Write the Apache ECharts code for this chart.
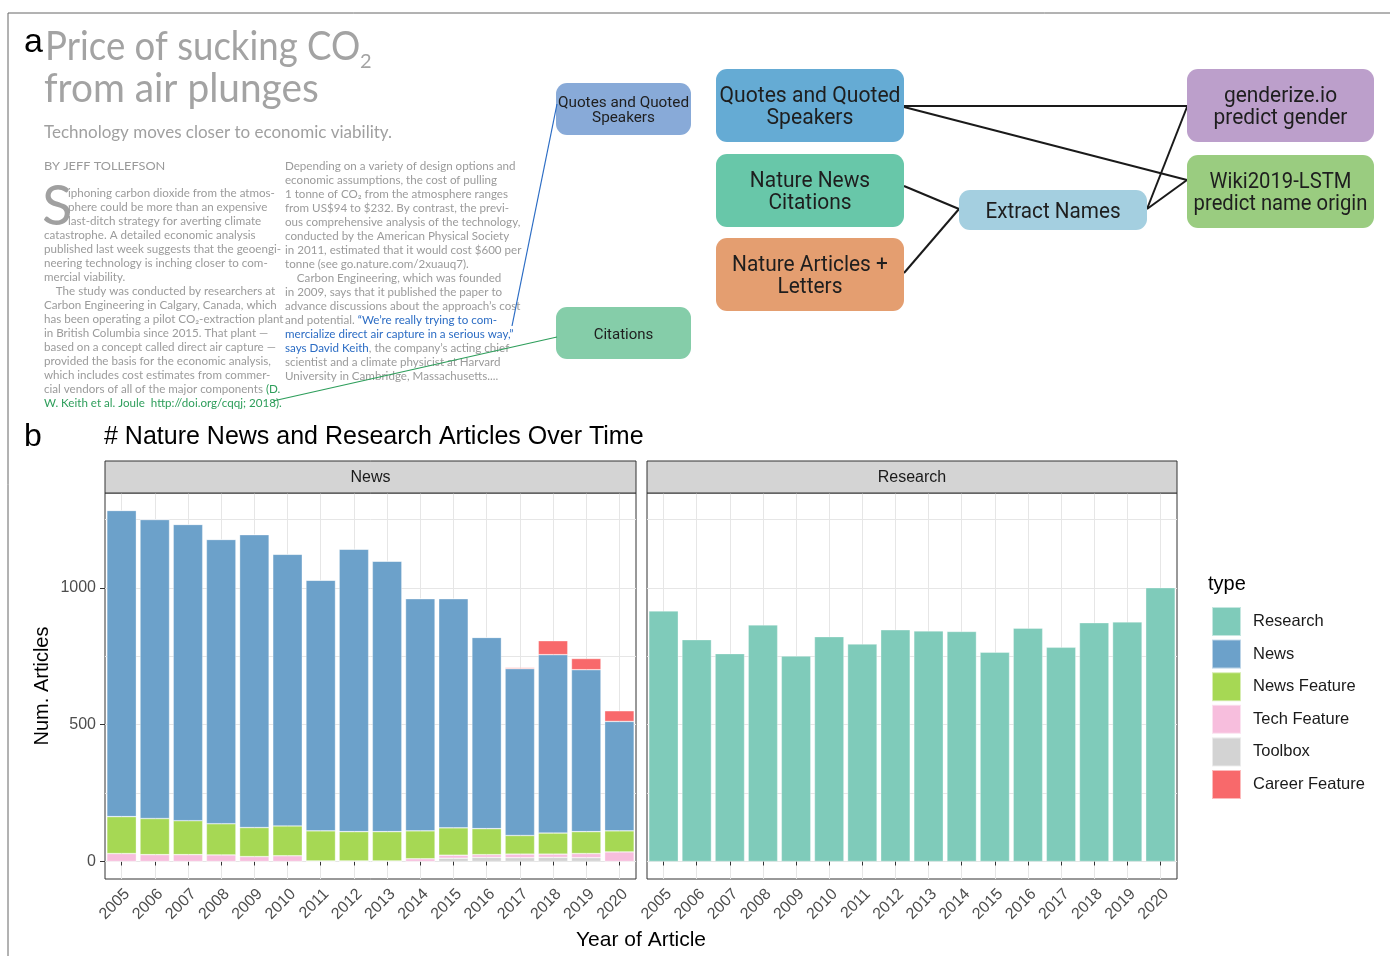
<!DOCTYPE html>
<html>
<head>
<meta charset="utf-8">
<title>Nature News and Research Articles Over Time</title>
<script src="https://cdn.jsdelivr.net/npm/echarts@6/dist/echarts.min.js"></script>
<style>
  html, body { margin: 0; padding: 0; background: #fff; }
  #main { width: 1390px; height: 956px; }
</style>
</head>
<body>
<div id="main"></div>
<script>
// ---- data ----
const years = ['2005', '2006', '2007', '2008', '2009', '2010', '2011', '2012',
  '2013', '2014', '2015', '2016', '2017', '2018', '2019', '2020'];
const newsCounts = [1119, 1093, 1083, 1039, 1071, 993, 916, 1033, 989, 849, 838, 699, 610, 652, 592, 400];
const newsFeatureCounts = [135, 132, 124, 114, 106, 109, 110, 107, 107, 102, 100, 95, 68, 77, 80, 77];
const techFeatureCounts = [29, 25, 25, 24, 18, 21, 2, 2, 2, 10, 11, 10, 13, 12, 15, 35];
const toolboxCounts = [0, 0, 0, 0, 0, 0, 0, 0, 0, 0, 12, 15, 14, 15, 14, 0];
const careerFeatureCounts = [0, 0, 0, 0, 0, 0, 0, 0, 0, 0, 0, 0, 4, 51, 41, 39];
const researchCounts = [916, 811, 760, 865, 751, 822, 795, 847, 843, 841, 765, 853, 783, 873, 876, 1001];

const typeNames = ['Research', 'News', 'News Feature', 'Tech Feature', 'Toolbox', 'Career Feature'];
const typeColors = ['#7FCBBA', '#6CA1CA', '#A6D854', '#F7BEDD', '#D3D3D3', '#F8696B'];
const yLabelTicks = [0, 500, 1000];
const yGridTicks = [0, 250, 500, 750, 1000, 1250];

// ---- panel a text ----
const colOneLines = [
  'catastrophe. A detailed economic analysis',
  'published last week suggests that the geoengi-',
  'neering technology is inching closer to com-',
  'mercial viability.',
  '    The study was conducted by researchers at',
  'Carbon Engineering in Calgary, Canada, which',
  'has been operating a pilot CO\u2082-extraction plant',
  'in British Columbia since 2015. That plant \u2014',
  'based on a concept called direct air capture \u2014',
  'provided the basis for the economic analysis,',
  'which includes cost estimates from commer-',
  'cial vendors of all of the major components {g|(D.}',
  '{g|W. Keith et al. Joule  http://doi.org/cqqj; 2018).}'
];
const dropCapLines = [
  'iphoning carbon dioxide from the atmos-',
  'phere could be more than an expensive',
  'last-ditch strategy for averting climate'
];
const colTwoLines = [
  'Depending on a variety of design options and',
  'economic assumptions, the cost of pulling',
  '1 tonne of CO\u2082 from the atmosphere ranges',
  'from US$94 to $232. By contrast, the previ-',
  'ous comprehensive analysis of the technology,',
  'conducted by the American Physical Society',
  'in 2011, estimated that it would cost $600 per',
  'tonne (see go.nature.com/2xuauq7).',
  '    Carbon Engineering, which was founded',
  'in 2009, says that it published the paper to',
  'advance discussions about the approach\u2019s cost',
  'and potential. {b|\u201CWe\u2019re really trying to com-}',
  '{b|mercialize direct air capture in a serious way,\u201D}',
  '{b|says David Keith}, the company\u2019s acting chief',
  'scientist and a climate physicist at Harvard',
  'University in Cambridge, Massachusetts....'
];

const chartFont = 'Liberation Sans, Arial, sans-serif';
const paperFont = 'Lato, Open Sans, sans-serif';
const boxFont = 'Roboto, sans-serif';
const paperGray = '#9B9B9B';
const paperSize = 11.6;

const graphics = [];

// frame
graphics.push({ type: 'line', shape: { x1: 8, y1: 13, x2: 1390, y2: 13 }, style: { stroke: '#666', lineWidth: 1 } });
graphics.push({ type: 'line', shape: { x1: 8, y1: 13, x2: 8, y2: 956 }, style: { stroke: '#666', lineWidth: 1 } });

function txt(x, y, text, size, opts) {
  opts = opts || {};
  return {
    type: 'text', x: x, y: y, rotation: opts.rotation || 0,
    scaleX: opts.scaleX || 1, z: opts.z || 10,
    style: {
      text: text, x: 0, y: 0,
      fontSize: size, fontFamily: opts.font || chartFont,
      fontWeight: opts.weight || 'normal',
      fill: opts.fill || '#000',
      align: opts.align || 'left', verticalAlign: opts.valign || 'middle',
      lineHeight: opts.lineHeight, rich: opts.rich
    }
  };
}

// panel labels
graphics.push(txt(24, 43, 'a', 34));
graphics.push(txt(24, 437, 'b', 32));

// article header
graphics.push(txt(45, 47, 'Price of sucking CO', 40, { font: paperFont, fill: '#A3A3A3', scaleX: 0.915 }));
graphics.push(txt(360, 62, '2', 20, { font: paperFont, fill: '#A3A3A3' }));
graphics.push(txt(44, 89, 'from air plunges', 40, { font: paperFont, fill: '#A3A3A3', scaleX: 0.97 }));
graphics.push(txt(44, 133, 'Technology moves closer to economic viability.', 17, { font: paperFont, fill: '#A0A0A0' }));
graphics.push(txt(44, 166, 'BY JEFF TOLLEFSON', 11, { font: paperFont, fill: '#9A9A9A', scaleX: 1.16 }));

// drop cap + first column
graphics.push(txt(42, 207, 'S', 56, { font: paperFont, fill: '#A0A0A0' }));
const richStyles = {
  g: { fill: '#2E9E5B', fontSize: paperSize, fontFamily: paperFont },
  b: { fill: '#2B6CC4', fontSize: paperSize, fontFamily: paperFont }
};
dropCapLines.forEach(function (line, i) {
  graphics.push(txt(68, 193 + i * 14, line, paperSize, { font: paperFont, fill: paperGray }));
});
colOneLines.forEach(function (line, i) {
  graphics.push(txt(44, 235 + i * 14, line, paperSize, { font: paperFont, fill: paperGray, rich: richStyles }));
});
colTwoLines.forEach(function (line, i) {
  graphics.push(txt(285, 166 + i * 14, line, paperSize, { font: paperFont, fill: paperGray, rich: richStyles }));
});

// connectors from text to small boxes
graphics.push({ type: 'line', z: 12, shape: { x1: 512, y1: 326, x2: 557, y2: 104 }, style: { stroke: '#2B6CC4', lineWidth: 1.2 } });
graphics.push({ type: 'line', z: 12, shape: { x1: 273, y1: 401, x2: 557, y2: 337 }, style: { stroke: '#2E9E5B', lineWidth: 1.2 } });

// flow diagram lines
const flowLines = [
  [904, 106, 1187, 106], [904, 107, 1187, 180],
  [904, 186, 959, 209], [904, 273, 959, 209],
  [1147, 209, 1187, 107], [1147, 209, 1187, 180]
];
flowLines.forEach(function (l) {
  graphics.push({ type: 'line', z: 5, shape: { x1: l[0], y1: l[1], x2: l[2], y2: l[3] }, style: { stroke: '#1A1A1A', lineWidth: 2 } });
});

// boxes
function box(x, y, w, h, fill, label, size, sx) {
  graphics.push({ type: 'rect', z: 8, shape: { x: x, y: y, width: w, height: h, r: 11 }, style: { fill: fill } });
  graphics.push(txt(x + w / 2, y + h / 2 + 2, label, size, {
    font: boxFont, fill: '#1E1E1E', align: 'center', scaleX: sx, lineHeight: size * 0.98
  }));
}
box(556, 83, 135, 52, '#88AAD8', 'Quotes and Quoted\nSpeakers', 15, 1.02);
box(556, 307, 135, 52, '#85CDA9', 'Citations', 15, 1.0);
box(716, 69, 188, 73, '#65ABD4', 'Quotes and Quoted\nSpeakers', 22, 0.96);
box(716, 154, 188, 73, '#68C7A9', 'Nature News\nCitations', 22, 0.95);
box(716, 238, 188, 73, '#E49E70', 'Nature Articles +\nLetters', 22, 0.95);
box(959, 190, 188, 40, '#A4CFE0', 'Extract Names', 22, 0.94);
box(1187, 69, 187, 73, '#BC9FCB', 'genderize.io\npredict gender', 22, 0.95);
box(1187, 155, 187, 73, '#9ACC80', 'Wiki2019-LSTM\npredict name origin', 22, 0.92);

// panel b: title, strips, axis titles, legend title
graphics.push(txt(104, 437, '# Nature News and Research Articles Over Time', 25));
const strips = [[105, 531, 'News'], [647, 530, 'Research']];
strips.forEach(function (s) {
  graphics.push({ type: 'rect', z: 3, shape: { x: s[0], y: 461, width: s[1], height: 32 }, style: { fill: '#D4D4D4', stroke: '#333', lineWidth: 1 } });
  graphics.push(txt(s[0] + s[1] / 2, 478, s[2], 16, { fill: '#1A1A1A', align: 'center' }));
});
graphics.push(txt(42, 686, 'Num. Articles', 20, { align: 'center', rotation: Math.PI / 2 }));
graphics.push(txt(641, 940, 'Year of Article', 21, { align: 'center' }));
graphics.push(txt(1208, 584, 'type', 20));

// ---- chart axes ----
const gridLineStyle = { color: '#E6E6E6', width: 1 };
function yAxisFor(gridIndex, withLabels, gridLines) {
  return {
    type: 'value', gridIndex: gridIndex, min: -64, max: 1347, position: 'left',
    axisLine: { show: false },
    axisTick: withLabels
      ? { show: true, customValues: yLabelTicks, length: 5, lineStyle: { color: '#333' } }
      : { show: false, customValues: yGridTicks },
    axisLabel: withLabels
      ? { show: true, customValues: yLabelTicks, fontSize: 16, color: '#4D4D4D', margin: 9,
          fontFamily: chartFont, formatter: function (v) { return String(v); } }
      : { show: false },
    splitLine: { show: gridLines, lineStyle: gridLineStyle }
  };
}
function xAxisFor(gridIndex) {
  return {
    type: 'category', gridIndex: gridIndex, data: years,
    axisLine: { show: false },
    axisTick: { show: true, alignWithLabel: true, interval: 0, length: 4, lineStyle: { color: '#333' } },
    axisLabel: { interval: 0, rotate: 45, fontSize: 16, color: '#4D4D4D', margin: 7,
      verticalAlign: 'top', fontFamily: chartFont },
    splitLine: { show: true, interval: 0, alignWithLabel: true, lineStyle: gridLineStyle }
  };
}

function barSeries(name, data, stack) {
  const idx = typeNames.indexOf(name);
  return {
    name: name, type: 'bar', stack: stack, data: data,
    xAxisIndex: name === 'Research' ? 1 : 0,
    yAxisIndex: name === 'Research' ? 2 : 0,
    barWidth: 29.5,
    itemStyle: { color: typeColors[idx], borderColor: 'rgba(255,255,255,0.55)', borderWidth: 0.6 },
    emphasis: { disabled: true }
  };
}

const option = {
  animation: false,
  backgroundColor: '#fff',
  textStyle: { fontFamily: chartFont },
  grid: [
    { left: 105, top: 493, width: 531, height: 386, show: true, borderColor: '#333', borderWidth: 1, backgroundColor: '#fff' },
    { left: 647, top: 493, width: 530, height: 386, show: true, borderColor: '#333', borderWidth: 1, backgroundColor: '#fff' }
  ],
  xAxis: [xAxisFor(0), xAxisFor(1)],
  yAxis: [yAxisFor(0, false, true), yAxisFor(0, true, false), yAxisFor(1, false, true)],
  legend: {
    orient: 'vertical', left: 1211, top: 606, padding: 0,
    itemWidth: 29, itemHeight: 29, itemGap: 1.6, icon: 'rect',
    selectedMode: false, data: typeNames,
    textStyle: { fontSize: 16.5, color: '#1A1A1A', fontFamily: chartFont, padding: [0, 0, 0, 7] }
  },
  series: [
    barSeries('Research', researchCounts, 'r'),
    barSeries('Toolbox', toolboxCounts, 'n'),
    barSeries('Tech Feature', techFeatureCounts, 'n'),
    barSeries('News Feature', newsFeatureCounts, 'n'),
    barSeries('News', newsCounts, 'n'),
    barSeries('Career Feature', careerFeatureCounts, 'n')
  ],
  graphic: graphics
};

const chart = echarts.init(document.getElementById('main'));
chart.setOption(option);
</script>
</body>
</html>
